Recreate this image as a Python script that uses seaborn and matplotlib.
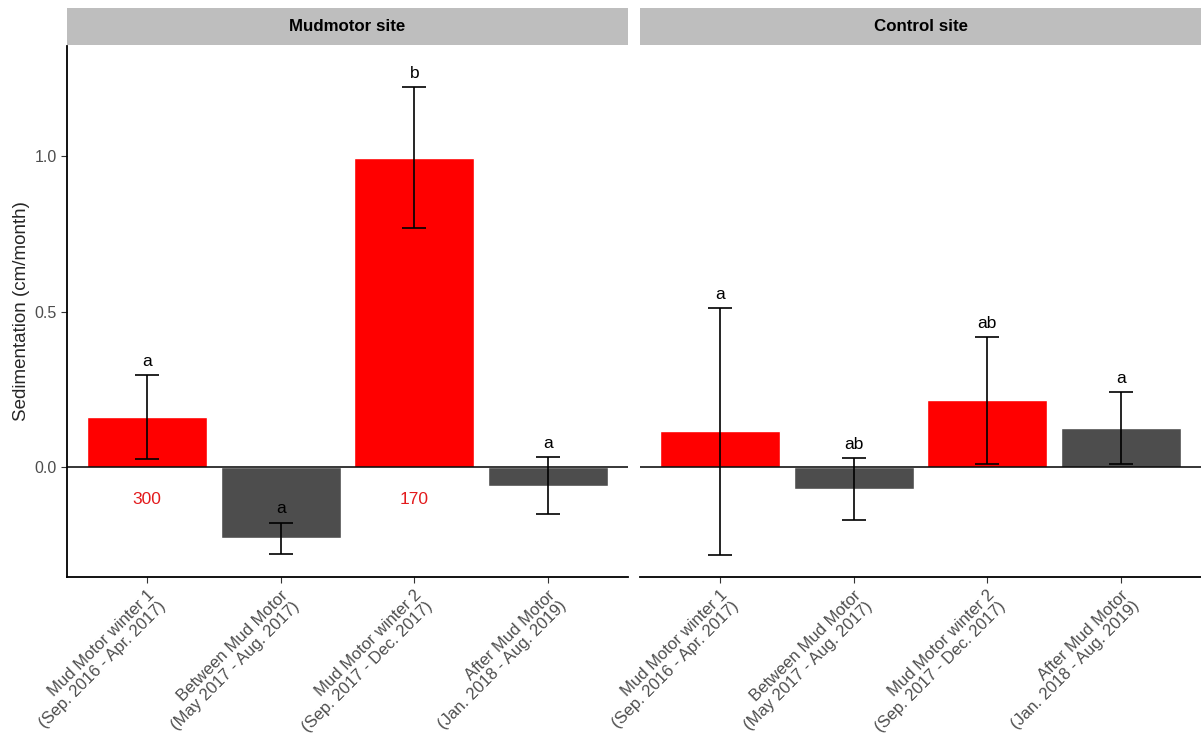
import numpy as np
import pandas as pd
import matplotlib
matplotlib.use("Agg")
import matplotlib.pyplot as plt
import seaborn as sns
from matplotlib.patches import Rectangle

# Data
periods = ["Mud Motor winter 1\n(Sep. 2016 - Apr. 2017)",
           "Between Mud Motor\n(May 2017 - Aug. 2017)",
           "Mud Motor winter 2\n(Sep. 2017 - Dec. 2017)",
           "After Mud Motor\n(Jan. 2018 - Aug. 2019)"]
sites = ["Mudmotor site", "Control site"]
mud_mean = [0.161, -0.229, 0.995, -0.060]
mud_err = [0.135, 0.050, 0.227, 0.092]
ctrl_mean = [0.115, -0.071, 0.214, 0.125]
ctrl_err = [0.397, 0.099, 0.203, 0.115]
mud_letters = ["a", "a", "b", "a"]
ctrl_letters = ["a", "ab", "ab", "a"]
bar_colors = ["#FF0000", "#4D4D4D", "#FF0000", "#4D4D4D"]
red_labels = ["300", "", "170", ""]

sns.set_theme(style="white")
plt.rcParams["font.family"] = ["Liberation Sans", "DejaVu Sans"]

W, H = 1201, 735
fig = plt.figure(figsize=(W / 100, H / 100), dpi=100)
top, bottom = 46, 577
axes = [fig.add_axes([67 / W, (H - bottom) / H, 561 / W, (bottom - top) / H]),
        fig.add_axes([640 / W, (H - bottom) / H, 561 / W, (bottom - top) / H])]

panels = [(mud_mean, mud_err, mud_letters), (ctrl_mean, ctrl_err, ctrl_letters)]
for i, (ax, (means, errs, letters)) in enumerate(zip(axes, panels)):
    df = pd.DataFrame({"period": periods, "value": means})
    sns.barplot(data=df, x="period", y="value", hue="period",
                palette=bar_colors, width=0.9, saturation=1,
                legend=False, ax=ax, errorbar=None)
    ax.axhline(0, color="black", lw=1.1, zorder=1)
    ax.errorbar(range(4), means, yerr=errs, fmt="none", ecolor="black",
                elinewidth=1.2, capsize=8.4, capthick=1.2, zorder=5)
    for x, (m, e, l) in enumerate(zip(means, errs, letters)):
        ax.text(x, m + e + 0.02, l, ha="center", va="bottom",
                fontsize=12.5, color="black")
    ax.set_xlim(-0.6, 3.6)
    ax.set_ylim(-0.354, 1.354)
    ax.set_yticks([0.0, 0.5, 1.0])
    ax.set_xlabel("")
    ax.set_xticks(range(4))
    ax.set_xticklabels(periods, rotation=45, ha="right",
                       rotation_mode="anchor", fontsize=12, color="#4D4D4D",
                       linespacing=1.05)
    ax.tick_params(axis="both", length=4, width=0.8, color="#333333",
                   bottom=True, left=(i == 0))
    for side in ["top", "right"]:
        ax.spines[side].set_visible(False)
    ax.spines["bottom"].set_color("black")
    ax.spines["bottom"].set_linewidth(1.3)
    if i == 0:
        ax.spines["left"].set_color("black")
        ax.spines["left"].set_linewidth(1.3)
        ax.set_ylabel("Sedimentation (cm/month)", fontsize=13.5, labelpad=3)
        ax.set_yticklabels(["0.0", "0.5", "1.0"], fontsize=11.5,
                           color="#4D4D4D")
    else:
        ax.spines["left"].set_visible(False)
        ax.set_ylabel("")
        ax.set_yticklabels([])
    # strip header
    strip_h = 37 / (bottom - top)
    ax.add_patch(Rectangle((0, 1.002), 1, strip_h, transform=ax.transAxes,
                           facecolor="#BEBEBE", edgecolor="none",
                           clip_on=False))
    ax.text(0.5, 1.002 + strip_h / 2, sites[i], transform=ax.transAxes,
            ha="center", va="center", fontsize=12.2, fontweight="bold",
            color="black")

for x, lab in enumerate(red_labels):
    if lab:
        axes[0].text(x, -0.105, lab, ha="center", va="center",
                     fontsize=12.5, color="#E31A1C")

fig.savefig("out.png", dpi=100)
